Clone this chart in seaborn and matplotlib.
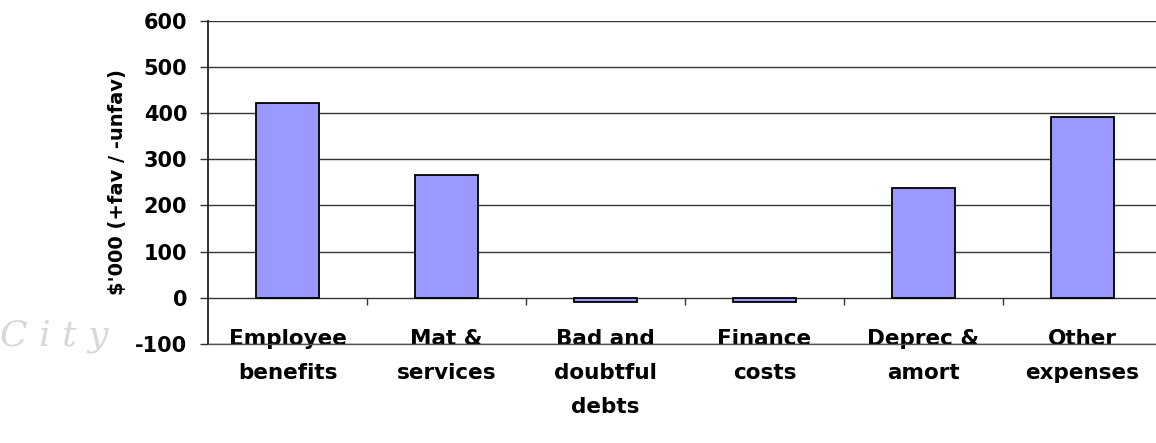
import numpy as np
import pandas as pd
import matplotlib
matplotlib.use("Agg")
import matplotlib.pyplot as plt
import seaborn as sns

# Dados do gráfico
categorias = ["Employee\nbenefits", "Mat &\nservices", "Bad and\ndoubtful\ndebts",
              "Finance\ncosts", "Deprec &\namort", "Other\nexpenses"]
valores = [422, 266, -10, -10, 238, 392]
ticks_y = [-100, 0, 100, 200, 300, 400, 500, 600]

dados = pd.DataFrame({"categoria": categorias, "valor": valores})

sns.set_style("white")
plt.rcParams['font.family'] = ['DejaVu Sans']
plt.rcParams['font.weight'] = 'bold'
plt.rcParams['text.color'] = 'black'
plt.rcParams['axes.labelcolor'] = 'black'
plt.rcParams['xtick.color'] = 'black'
plt.rcParams['ytick.color'] = 'black'

fig = plt.figure(figsize=(11.56, 4.43), dpi=100)
ax = fig.add_axes([0.18, 0.2235, 0.825, 0.7295])

# grade horizontal atrás das barras
for t in ticks_y:
    ax.axhline(t, color='#333333', lw=1, zorder=0)

sns.barplot(data=dados, x="categoria", y="valor", color='#9999FF',
            edgecolor='black', linewidth=1.3, width=0.4, saturation=1, ax=ax, zorder=2)

ax.set_ylim(-100, 600)
ax.set_xlim(-0.5, len(categorias) - 0.5)
ax.set_yticks(ticks_y)
ax.set_yticklabels([str(t) for t in ticks_y], fontsize=15, fontweight='bold')
ax.set_xticks(range(len(categorias)))
ax.set_xticklabels(categorias, fontsize=15.5, fontweight='bold', linespacing=1.85)
ax.tick_params(axis='x', length=0, pad=-10.5)
ax.tick_params(axis='y', length=6, width=1, direction='out', pad=9, left=True, color='#333333')
ax.set_xlabel("")
ax.set_ylabel("$'000 (+fav / -unfav)", fontsize=14, fontweight='bold', labelpad=6)

# marcas entre as categorias no eixo do zero
limites = np.arange(len(categorias) - 1) + 0.5
ax.vlines(limites, -15, 0, color='#333333', lw=1, zorder=1)

for lado in ['top', 'right']:
    ax.spines[lado].set_visible(False)
ax.spines['left'].set_color('#222222')
ax.spines['left'].set_linewidth(1.3)
ax.spines['bottom'].set_color('#555555')
ax.spines['bottom'].set_linewidth(1)

# marca d'água
fig.text(0.0, 0.22, "C i t y", fontsize=26, fontstyle='italic', family='DejaVu Serif',
         fontweight='normal', color='#d8d8d8', zorder=-1)

fig.savefig("out.png", dpi=100)
